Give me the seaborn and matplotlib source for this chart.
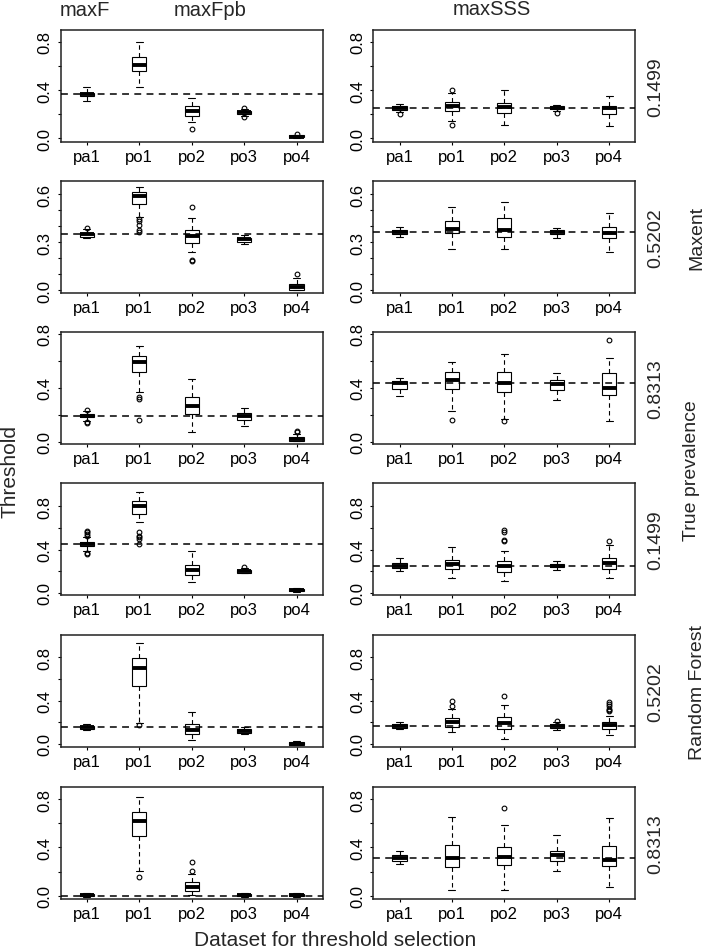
import numpy as np
import pandas as pd
import seaborn as sns
import matplotlib.pyplot as plt

# -----------------------------
# Data
# each box: (lower whisker, q1, median, q3, upper whisker)
# -----------------------------
datasets = ["pa1", "po1", "po2", "po3", "po4"]
prevalence = ["0.1499", "0.5202", "0.8313", "0.1499", "0.5202", "0.8313"]
models = ["Maxent", "Random Forest"]

left1 = [(0.307, 0.35, 0.365, 0.38, 0.423), (0.429, 0.562, 0.611, 0.672, 0.797),
         (0.138, 0.188, 0.23, 0.266, 0.337), (0.185, 0.20, 0.215, 0.23, 0.245),
         (0.005, 0.01, 0.015, 0.025, 0.03)]
right1 = [(0.216, 0.238, 0.254, 0.271, 0.285), (0.147, 0.227, 0.266, 0.299, 0.376),
          (0.111, 0.207, 0.257, 0.29, 0.404), (0.227, 0.241, 0.255, 0.268, 0.277),
          (0.105, 0.199, 0.249, 0.266, 0.349)]
left2 = [(0.325, 0.335, 0.35, 0.36, 0.385), (0.455, 0.542, 0.59, 0.615, 0.646),
         (0.242, 0.298, 0.34, 0.375, 0.45), (0.288, 0.304, 0.319, 0.329, 0.346),
         (0.0, 0.002, 0.021, 0.042, 0.079)]
right2 = [(0.335, 0.35, 0.367, 0.379, 0.396), (0.26, 0.358, 0.381, 0.433, 0.521),
          (0.26, 0.333, 0.375, 0.45, 0.552), (0.325, 0.35, 0.365, 0.377, 0.392),
          (0.24, 0.329, 0.36, 0.396, 0.485)]
left3 = [(0.156, 0.18, 0.193, 0.205, 0.225), (0.365, 0.514, 0.593, 0.637, 0.711),
         (0.069, 0.205, 0.267, 0.328, 0.464), (0.114, 0.163, 0.188, 0.21, 0.247),
         (0.002, 0.007, 0.02, 0.032, 0.06)]
right3 = [(0.341, 0.39, 0.435, 0.452, 0.474), (0.23, 0.39, 0.459, 0.514, 0.593),
          (0.165, 0.37, 0.435, 0.519, 0.649), (0.311, 0.385, 0.427, 0.459, 0.509),
          (0.156, 0.348, 0.398, 0.509, 0.617)]
left4 = [(0.39, 0.431, 0.452, 0.474, 0.514), (0.652, 0.729, 0.806, 0.852, 0.929),
         (0.098, 0.166, 0.215, 0.262, 0.385), (0.182, 0.188, 0.2, 0.212, 0.23),
         (0.006, 0.015, 0.028, 0.037, 0.043)]
right4 = [(0.2, 0.231, 0.252, 0.274, 0.32), (0.138, 0.222, 0.268, 0.305, 0.422),
          (0.114, 0.197, 0.252, 0.298, 0.391), (0.215, 0.237, 0.252, 0.268, 0.292),
          (0.138, 0.218, 0.274, 0.32, 0.446)]
left5 = [(0.132, 0.138, 0.154, 0.169, 0.18), (0.19, 0.538, 0.698, 0.79, 0.932),
         (0.037, 0.092, 0.132, 0.185, 0.298), (0.092, 0.1, 0.12, 0.138, 0.154),
         (-0.01, -0.006, 0.003, 0.015, 0.031)]
right5 = [(0.138, 0.148, 0.169, 0.185, 0.2), (0.108, 0.154, 0.2, 0.237, 0.323),
          (0.046, 0.138, 0.194, 0.246, 0.36), (0.132, 0.148, 0.169, 0.185, 0.2),
          (0.086, 0.138, 0.175, 0.206, 0.255)]
left6 = [(-0.008, -0.003, 0.008, 0.017, 0.025), (0.201, 0.497, 0.615, 0.695, 0.814),
         (0.008, 0.041, 0.074, 0.11, 0.179), (-0.008, -0.003, 0.008, 0.017, 0.025),
         (-0.008, -0.003, 0.008, 0.017, 0.025)]
right6 = [(0.262, 0.284, 0.309, 0.339, 0.367), (0.047, 0.234, 0.309, 0.422, 0.654),
          (0.047, 0.254, 0.317, 0.4, 0.585), (0.201, 0.29, 0.339, 0.372, 0.502),
          (0.069, 0.248, 0.298, 0.414, 0.64)]

# outliers: (dataset index, value)
left1_out = [(2, 0.077), (3, 0.255), (3, 0.175), (4, 0.04)]
right1_out = [(0, 0.2), (1, 0.404), (1, 0.111), (3, 0.21)]
left2_out = [(0, 0.39), (1, 0.444), (1, 0.43), (1, 0.41), (1, 0.375), (1, 0.365),
             (2, 0.52), (2, 0.19), (2, 0.18), (4, 0.1)]
right2_out = []
left3_out = [(0, 0.232), (0, 0.142), (0, 0.135), (1, 0.328), (1, 0.318), (1, 0.163),
             (4, 0.08), (4, 0.07)]
right3_out = [(1, 0.163), (2, 0.15), (4, 0.756)]
left4_out = [(0, 0.53), (0, 0.545), (0, 0.56), (0, 0.575), (0, 0.37), (0, 0.36),
             (1, 0.56), (1, 0.53), (1, 0.515), (1, 0.5), (1, 0.452), (3, 0.243)]
right4_out = [(2, 0.477), (2, 0.485), (2, 0.56), (2, 0.58), (4, 0.483)]
left5_out = [(1, 0.175)]
right5_out = [(1, 0.348), (1, 0.4), (2, 0.44), (3, 0.215), (4, 0.3), (4, 0.31),
              (4, 0.323), (4, 0.348), (4, 0.37), (4, 0.39)]
left6_out = [(1, 0.152), (2, 0.207), (2, 0.276)]
right6_out = [(2, 0.726)]

# reference (dashed) threshold per panel
left_ref = [0.368, 0.35, 0.193, 0.452, 0.154, 0.0]
right_ref = [0.254, 0.367, 0.432, 0.252, 0.169, 0.309]

row_ylim = [(-0.028, 0.901), (-0.017, 0.683), (-0.02, 0.81),
            (-0.022, 1.012), (-0.028, 1.006), (-0.025, 0.902)]

left_boxes = [left1, left2, left3, left4, left5, left6]
right_boxes = [right1, right2, right3, right4, right5, right6]
left_outs = [left1_out, left2_out, left3_out, left4_out, left5_out, left6_out]
right_outs = [right1_out, right2_out, right3_out, right4_out, right5_out, right6_out]

# -----------------------------
# Style
# -----------------------------
sns.set_style("ticks")
plt.rcParams['font.family'] = ['Liberation Sans', 'DejaVu Sans']

W, H = 709, 953
fig = plt.figure(figsize=(W / 100, H / 100), dpi=100)

col_left = [60.7, 373.3]
panel_w, panel_h = 262, 112
row_top = [30.7, 182, 333.3, 484.3, 636, 787.7]


def px_axes(x, y, w, h):
    return fig.add_axes([x / W, 1 - (y + h) / H, w / W, h / H])


def draw_panel(ax, boxes, outs, ref, ylim, row):
    df = pd.DataFrame([(d, v) for d, b in zip(datasets, boxes) for v in b],
                      columns=["dataset", "threshold"])
    sns.boxplot(data=df, x="dataset", y="threshold", ax=ax, whis=(0, 100),
                width=0.27, color="white", linecolor="black", linewidth=0.8,
                showfliers=False,
                medianprops=dict(linewidth=2.8, solid_capstyle="butt"),
                whiskerprops=dict(linestyle=(0, (4, 3))))
    for i, v in outs:
        ax.plot(i, v, "o", ms=3.4, mfc="none", mec="black", mew=0.8, zorder=4)
    ax.axhline(ref, color="black", lw=1.1, ls=(0, (4.5, 3.5)), zorder=5)
    ax.set_xlim(-0.5, 4.5)
    ax.set_ylim(*ylim)
    if row == 1:
        ticks = np.round(np.arange(0, 0.61, 0.1), 1)
        labels = [f"{t:.1f}" if round(t * 10) % 3 == 0 else "" for t in ticks]
    else:
        ticks = np.round(np.arange(0, 0.81, 0.2), 1)
        labels = [f"{t:.1f}" if round(t * 10) % 4 == 0 else "" for t in ticks]
    ax.set_yticks(ticks)
    ax.set_yticklabels(labels, rotation=90, va="center")
    ax.set_xticks(range(5))
    ax.set_xticklabels(datasets)
    ax.set_xlabel("")
    ax.set_ylabel("")
    ax.tick_params(axis="both", length=2, width=0.8, labelsize=12, pad=3,
                   colors="black")
    ax.tick_params(axis="y", pad=4)
    for s in ax.spines.values():
        s.set_visible(True)
        s.set_linewidth(1.1)
        s.set_color("#222222")


for r in range(6):
    axl = px_axes(col_left[0], row_top[r], panel_w, panel_h)
    draw_panel(axl, left_boxes[r], left_outs[r], left_ref[r], row_ylim[r], r)
    axr = px_axes(col_left[1], row_top[r], panel_w, panel_h)
    draw_panel(axr, right_boxes[r], right_outs[r], right_ref[r], row_ylim[r], r)
    fig.text(656 / W, 1 - (row_top[r] + panel_h / 2) / H, prevalence[r],
             rotation=90, ha="center", va="center", fontsize=14)

# column headers
fig.text(85 / W, 1 - 16 / H, "maxF", ha="center", va="baseline", fontsize=14.5)
fig.text(210.5 / W, 1 - 16 / H, "maxFpb", ha="center", va="baseline", fontsize=14.5)
fig.text(491.7 / W, 1 - 15 / H, "maxSSS", ha="center", va="baseline", fontsize=14.5)

# right-side group labels
fig.text(697 / W, 1 - 238 / H, models[0], rotation=90, ha="center", va="center", fontsize=14)
fig.text(691 / W, 1 - 471 / H, "True prevalence", rotation=90, ha="center", va="center", fontsize=14)
fig.text(698 / W, 1 - 692 / H, models[1], rotation=90, ha="center", va="center", fontsize=14)

# axis titles
fig.text(10 / W, 1 - 471 / H, "Threshold", rotation=90, ha="center", va="center", fontsize=15)
fig.text(335 / W, 1 - 946 / H, "Dataset for threshold selection", ha="center",
         va="baseline", fontsize=15)

fig.savefig("out.png", dpi=100, facecolor="white")
